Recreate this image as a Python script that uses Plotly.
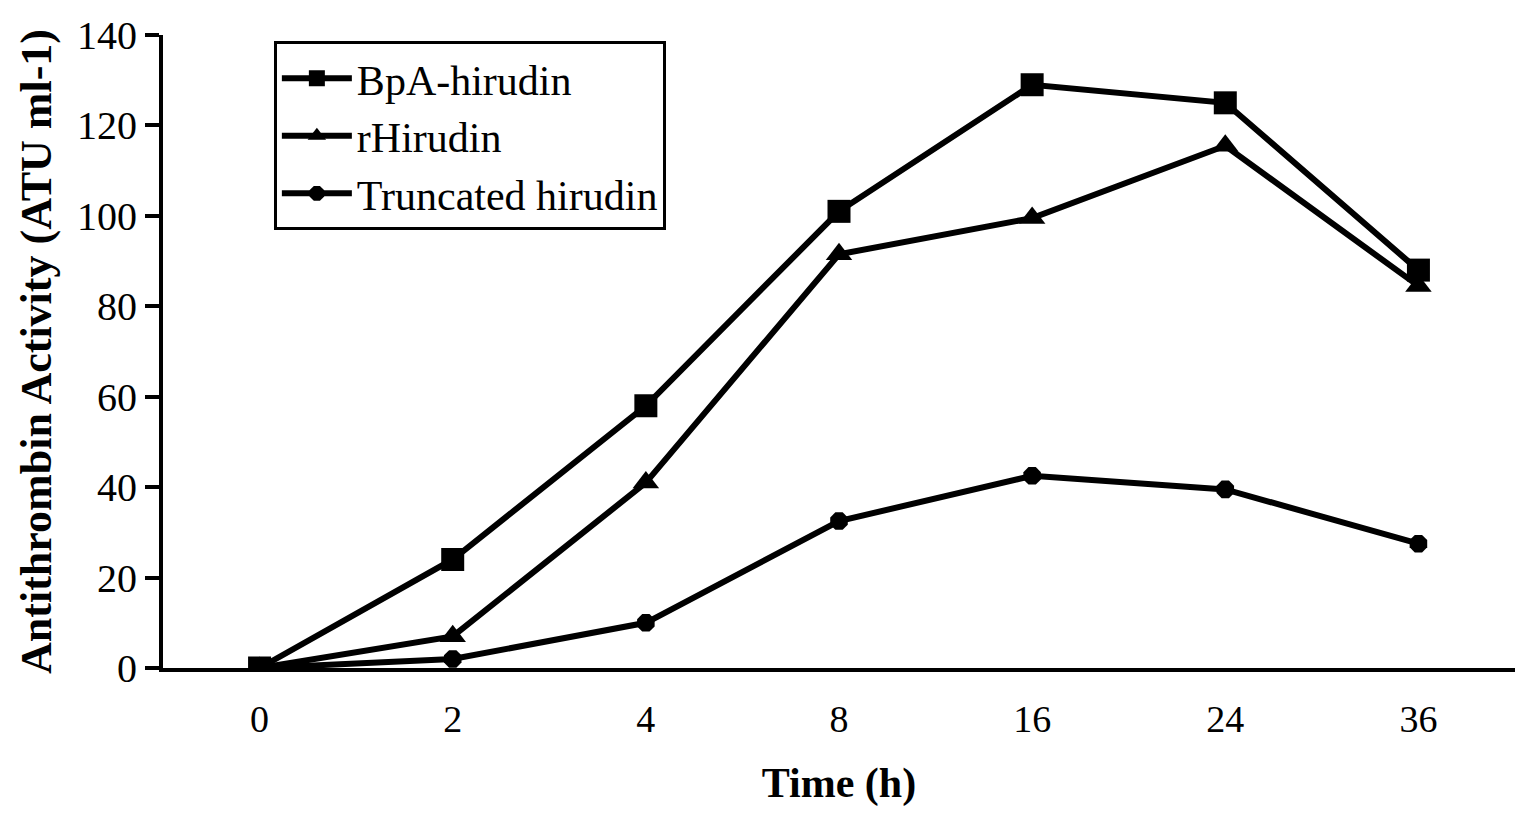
import plotly.graph_objects as go

time_labels = ["0", "2", "4", "8", "16", "24", "36"]
bpa_hirudin = [0, 24, 58, 101, 129, 125, 88]
r_hirudin = [0, 7, 41, 91.5, 99.5, 115.5, 84.5]
truncated_hirudin = [0, 2, 10, 32.5, 42.5, 39.5, 27.5]

FONT = "Liberation Serif"

fig = go.Figure()
series = [
    ("BpA-hirudin", bpa_hirudin, "square", 23),
    ("rHirudin", r_hirudin, "triangle-up", 23),
    ("Truncated hirudin", truncated_hirudin, "octagon", 19),
]
for name, vals, sym, size in series:
    fig.add_trace(
        go.Scatter(
            x=time_labels,
            y=vals,
            mode="lines+markers",
            name=name,
            line=dict(color="black", width=6),
            marker=dict(symbol=sym, size=size, color="black"),
        )
    )

# page body has an 8px default margin, so the figure is sized to fit inside it
fig.update_layout(
    width=1527,
    height=814,
    margin=dict(l=155, r=20, t=27, b=154),
    plot_bgcolor="white",
    paper_bgcolor="white",
    font=dict(family=FONT, color="black", size=34),
    legend=dict(
        x=0.082, y=0.99, xanchor="left", yanchor="top",
        bordercolor="black", borderwidth=3,
        font=dict(size=42, family=FONT),
        itemwidth=70,
        tracegroupgap=0,
    ),
    showlegend=True,
)
fig.update_xaxes(
    type="category",
    range=[-0.5, 6.5],
    automargin=False,
    showline=True, linecolor="black", linewidth=4,
    ticks="", showgrid=False,
    tickfont=dict(size=38),
    ticklabelstandoff=14,
    title=dict(text="<b>Time (h)</b>", font=dict(size=42), standoff=30),
)
fig.update_yaxes(
    range=[0, 140],
    dtick=20,
    automargin=False,
    showline=True, linecolor="black", linewidth=4,
    ticks="outside", ticklen=14, tickwidth=4, tickcolor="black",
    showgrid=False, zeroline=False,
    tickfont=dict(size=40),
    title=dict(text="<b>Antithrombin Activity (ATU ml-1)</b>", font=dict(size=44), standoff=13),
)

fig.write_html("out.html")
